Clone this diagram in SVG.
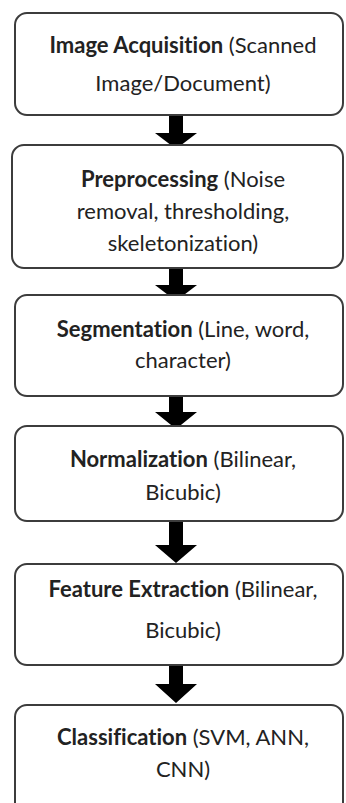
<svg xmlns="http://www.w3.org/2000/svg" width="346" height="803" viewBox="0 0 346 803">
  <style>
    .box { fill: #ffffff; stroke: #3c3c3c; stroke-width: 2; }
    .lbl { font-family: Lato, "Open Sans", "Liberation Sans", sans-serif; font-size: 22px; fill: #222222; text-anchor: middle; font-variant-ligatures: none; }
    .b { font-weight: bold; }
    .arrow { fill: #000000; }
  </style>
  <rect width="346" height="803" fill="#ffffff"/>

  <!-- block arrows between consecutive stages -->
  <g id="connectors">
    <path class="arrow" d="M169 115 H183 V133 H197 L176 149 L155 133 H169 Z"/>
    <path class="arrow" d="M169 268 H183 V285 H197 L176 301 L155 285 H169 Z"/>
    <path class="arrow" d="M169 396 H183 V412 H197 L176 429 L155 412 H169 Z"/>
    <path class="arrow" d="M169 521 H183 V545 H197 L176 563 L155 545 H169 Z"/>
    <path class="arrow" d="M169 665 H183 V684 H197 L176 703 L155 684 H169 Z"/>
  </g>

  <g id="acquisition">
    <rect class="box" x="15" y="13" width="328" height="102" rx="12"/>
    <text class="lbl" x="183" y="53"><tspan class="b">Image Acquisition</tspan> (Scanned</text>
    <text class="lbl" x="183" y="91">Image/Document)</text>
  </g>

  <g id="preprocessing">
    <rect class="box" x="12" y="145" width="331" height="123" rx="12"/>
    <text class="lbl" x="183" y="187"><tspan class="b">Preprocessing</tspan> (Noise</text>
    <text class="lbl" x="183" y="219">removal, thresholding,</text>
    <text class="lbl" x="183" y="251">skeletonization)</text>
  </g>

  <g id="segmentation">
    <rect class="box" x="15" y="295" width="328" height="101" rx="12"/>
    <text class="lbl" x="183" y="337"><tspan class="b">Segmentation</tspan> (Line, word,</text>
    <text class="lbl" x="183" y="368">character)</text>
  </g>

  <g id="normalization">
    <rect class="box" x="15" y="426" width="328" height="95" rx="12"/>
    <text class="lbl" x="183" y="467"><tspan class="b">Normalization</tspan> (Bilinear,</text>
    <text class="lbl" x="183" y="500">Bicubic)</text>
  </g>

  <g id="feature-extraction">
    <rect class="box" x="15" y="564" width="328" height="101" rx="12"/>
    <text class="lbl" x="183" y="597"><tspan class="b">Feature Extraction</tspan> (Bilinear,</text>
    <text class="lbl" x="183" y="638">Bicubic)</text>
  </g>

  <g id="classification">
    <rect class="box" x="15" y="705" width="328" height="110" rx="12"/>
    <text class="lbl" x="183" y="745"><tspan class="b">Classification</tspan> (SVM, ANN,</text>
    <text class="lbl" x="183" y="777">CNN)</text>
  </g>
</svg>
